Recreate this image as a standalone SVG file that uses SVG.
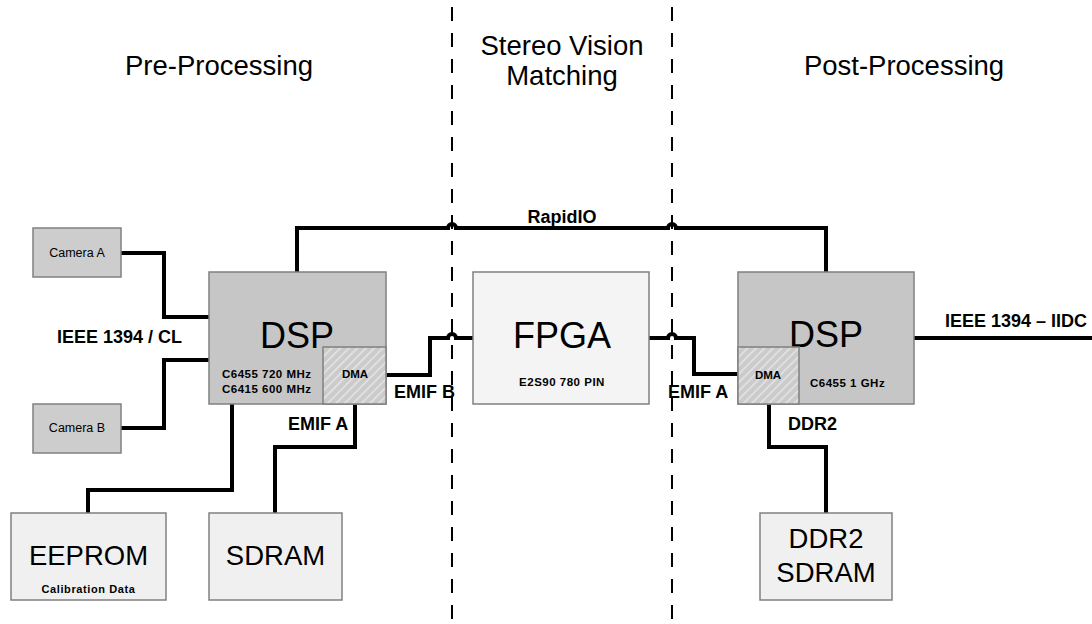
<svg xmlns="http://www.w3.org/2000/svg" width="1092" height="624" viewBox="0 0 1092 624">
<style>
  text { font-family: "Liberation Sans", Arial, sans-serif; fill: #000; }
  .title { font-size: 27.5px; text-anchor: middle; }
  .big { font-size: 36px; text-anchor: middle; }
  .mid { font-size: 27.5px; text-anchor: middle; }
  .lbl { font-size: 18px; font-weight: bold; }
  .small { font-size: 11.5px; font-weight: bold; letter-spacing: 0.5px; }
  .cam { font-size: 12.5px; text-anchor: middle; }
  .dsp { fill: #c6c6c6; stroke: #808080; stroke-width: 1.5; }
  .camb { fill: #cdcdcd; stroke: #808080; stroke-width: 1.5; }
  .light { fill: #f0f0f0; stroke: #808080; stroke-width: 1.5; }
  .fpga { fill: #f4f4f4; stroke: #808080; stroke-width: 1.5; }
  .dma { fill: url(#hatch); stroke: #808080; stroke-width: 1.5; }
  .wire { fill: none; stroke: #000; stroke-width: 4; stroke-linejoin: miter; }
  .sep { fill: none; stroke: #000; stroke-width: 2; stroke-dasharray: 14 12; }
</style>
<defs>
  <pattern id="hatch" patternUnits="userSpaceOnUse" width="6" height="6" patternTransform="rotate(45)">
    <rect width="6" height="6" fill="#cbcbcb"/>
    <rect x="0" y="0" width="1.6" height="6" fill="#e4e4e4"/>
  </pattern>
</defs>

<g id="separators">
  <line class="sep" x1="452" y1="7" x2="452" y2="624"/>
  <line class="sep" x1="672" y1="7" x2="672" y2="624"/>
</g>

<g id="titles">
  <text class="title" x="219" y="75">Pre-Processing</text>
  <text class="title" x="562" y="55">Stereo Vision</text>
  <text class="title" x="562" y="85">Matching</text>
  <text class="title" x="904" y="75">Post-Processing</text>
</g>

<g id="connectors">
  <path class="wire" d="M121,253 H164 V317 H209"/>
  <path class="wire" d="M121,428 H164 V360 H209"/>
  <path class="wire" d="M297,272 V228 H448 A4,4 0 0 1 456,228 H668 A4,4 0 0 1 676,228 H826 V272"/>
  <path class="wire" d="M386,375 H430 V338 H448 A4,4 0 0 1 456,338 H473"/>
  <path class="wire" d="M649,338 H668 A4,4 0 0 1 676,338 H694 V374 H738"/>
  <path class="wire" d="M232,404 V490 H88 V513"/>
  <path class="wire" d="M355,404 V447 H275 V513"/>
  <path class="wire" d="M769,404 V447 H826 V513"/>
  <path class="wire" d="M914,338 H1092"/>
  <text class="lbl" x="562" y="223" text-anchor="middle">RapidIO</text>
  <text class="lbl" x="57" y="343">IEEE 1394 / CL</text>
  <text class="lbl" x="945" y="327">IEEE 1394 – IIDC</text>
  <text class="lbl" x="288" y="430">EMIF A</text>
  <text class="lbl" x="394" y="398">EMIF B</text>
  <text class="lbl" x="668" y="398">EMIF A</text>
  <text class="lbl" x="788" y="430">DDR2</text>
</g>

<g id="cameraA">
  <rect class="camb" x="33" y="228" width="88" height="49"/>
  <text class="cam" x="77" y="257">Camera A</text>
</g>

<g id="cameraB">
  <rect class="camb" x="33" y="404" width="88" height="49"/>
  <text class="cam" x="77" y="432">Camera B</text>
</g>

<g id="dspLeft">
  <rect class="dsp" x="209" y="272" width="177" height="132"/>
  <text class="big" x="297" y="348">DSP</text>
  <text class="small" x="222" y="378">C6455 720 MHz</text>
  <text class="small" x="222" y="393">C6415 600 MHz</text>
  <rect class="dma" x="323" y="347" width="63" height="57"/>
  <text class="small" x="355" y="378" text-anchor="middle" style="letter-spacing:0">DMA</text>
</g>

<g id="fpga">
  <rect class="fpga" x="473" y="272" width="176" height="132"/>
  <text class="big" x="562" y="348">FPGA</text>
  <text class="small" x="562" y="386" text-anchor="middle">E2S90 780 PIN</text>
</g>

<g id="dspRight">
  <rect class="dsp" x="738" y="272" width="176" height="132"/>
  <text class="big" x="826" y="347">DSP</text>
  <rect class="dma" x="738" y="347" width="61" height="57"/>
  <text class="small" x="768" y="379" text-anchor="middle" style="letter-spacing:0">DMA</text>
  <text class="small" x="810" y="387">C6455 1 GHz</text>
</g>

<g id="eeprom">
  <rect class="light" x="11" y="513" width="155" height="87"/>
  <text class="mid" x="88.5" y="565">EEPROM</text>
  <text class="small" x="88.5" y="593" text-anchor="middle" style="font-size:11px;letter-spacing:0.6px">Calibration Data</text>
</g>

<g id="sdram">
  <rect class="light" x="209" y="513" width="133" height="87"/>
  <text class="mid" x="275.5" y="565">SDRAM</text>
</g>

<g id="ddr2sdram">
  <rect class="light" x="760" y="513" width="132" height="87"/>
  <text class="mid" x="826" y="548">DDR2</text>
  <text class="mid" x="826" y="582">SDRAM</text>
</g>
</svg>
